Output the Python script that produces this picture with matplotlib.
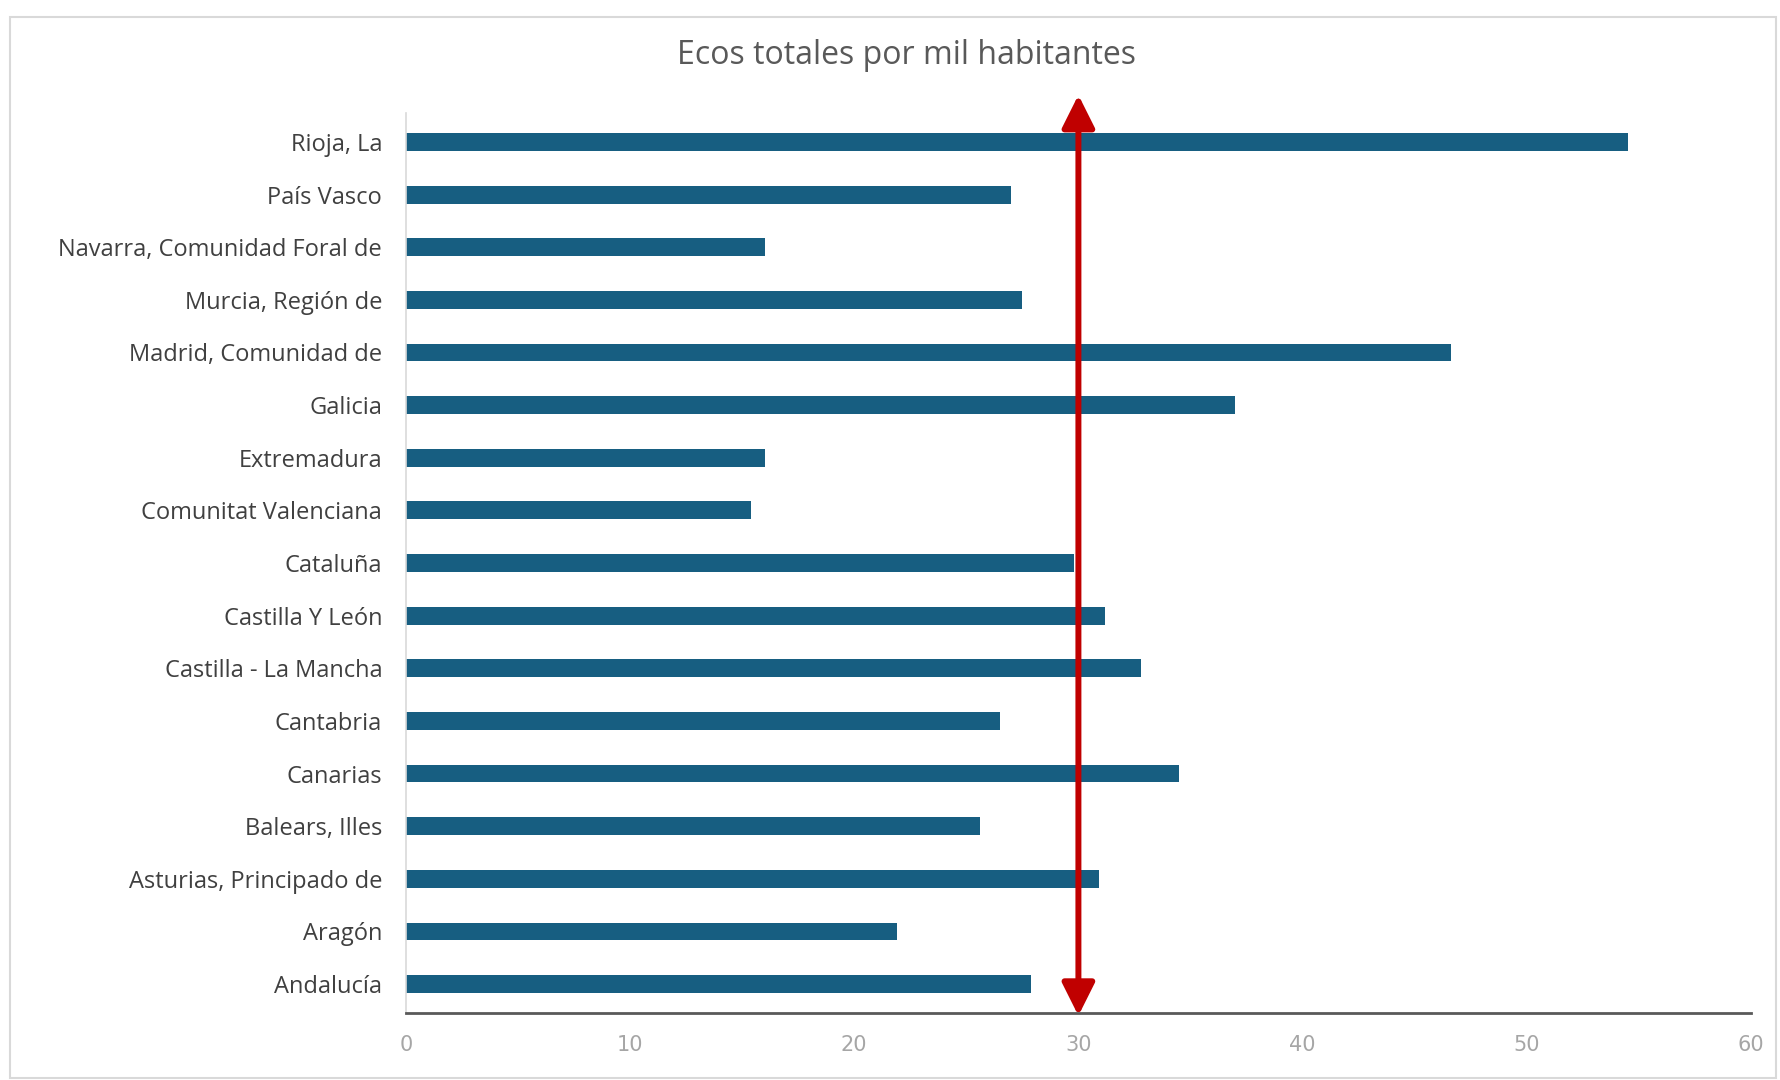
import matplotlib
matplotlib.use("Agg")
from matplotlib import pyplot as plt
from matplotlib.patches import Rectangle
import matplotlib.transforms as mtransforms

regions = [
    "Andalucía", "Aragón", "Asturias, Principado de", "Balears, Illes",
    "Canarias", "Cantabria", "Castilla - La Mancha", "Castilla Y León",
    "Cataluña", "Comunitat Valenciana", "Extremadura", "Galicia",
    "Madrid, Comunidad de", "Murcia, Región de", "Navarra, Comunidad Foral de",
    "País Vasco", "Rioja, La",
]
ecos = [27.9, 21.9, 30.9, 25.6, 34.5, 26.5, 32.8, 31.2, 29.8, 15.4, 16.0,
        37.0, 46.6, 27.5, 16.0, 27.0, 54.5]
xticks = [0, 10, 20, 30, 40, 50, 60]
reference = 30

plt.rcParams['font.family'] = ['Open Sans', 'DejaVu Sans']

fig = plt.figure(figsize=(17.8, 10.8), dpi=100)
ax = fig.add_axes([0.228, 0.062, 0.7557, 0.8334])

# light frame around the whole chart
fig.patches.append(Rectangle((10/1780, 0.002), 1766/1780, 1 - 17/1080 - 0.002,
                             transform=fig.transFigure, fill=False,
                             edgecolor='#d9d9d9', lw=1.5))

ypos = list(range(len(regions)))
ax.barh(ypos, ecos, height=0.34, color='#175e81')

ax.set_xlim(0, 60)
ax.set_ylim(-0.55, 16.55)
ax.set_xticks(xticks)
ax.set_xticklabels([str(t) for t in xticks], color='#a6a6a6', fontsize=15,
                   family=['Liberation Sans Narrow', 'DejaVu Sans'])
ax.set_yticks(ypos)
ax.set_yticklabels(regions, color='#404040', fontsize=17)
ax.tick_params(axis='x', length=0, pad=16)
ax.tick_params(axis='y', length=0, pad=17)

for side in ['top', 'right']:
    ax.spines[side].set_visible(False)
ax.spines['left'].set_color('#d9d9d9')
ax.spines['left'].set_linewidth(1.2)
ax.spines['bottom'].set_color('#595959')
ax.spines['bottom'].set_linewidth(2)

# red double arrow at the reference value
trans = mtransforms.blended_transform_factory(ax.transData, ax.transAxes)
ax.annotate('', xy=(reference, 1.02), xytext=(reference, -0.003),
            xycoords=trans, textcoords=trans,
            arrowprops=dict(arrowstyle='<|-|>', color='#c00000', lw=4.3,
                            mutation_scale=50, shrinkA=0, shrinkB=0),
            annotation_clip=False)

fig.text(906/1780, 1 - 55/1080, 'Ecos totales por mil habitantes',
         ha='center', va='center', fontsize=23, color='#595959')

fig.savefig('out.png', dpi=100)
